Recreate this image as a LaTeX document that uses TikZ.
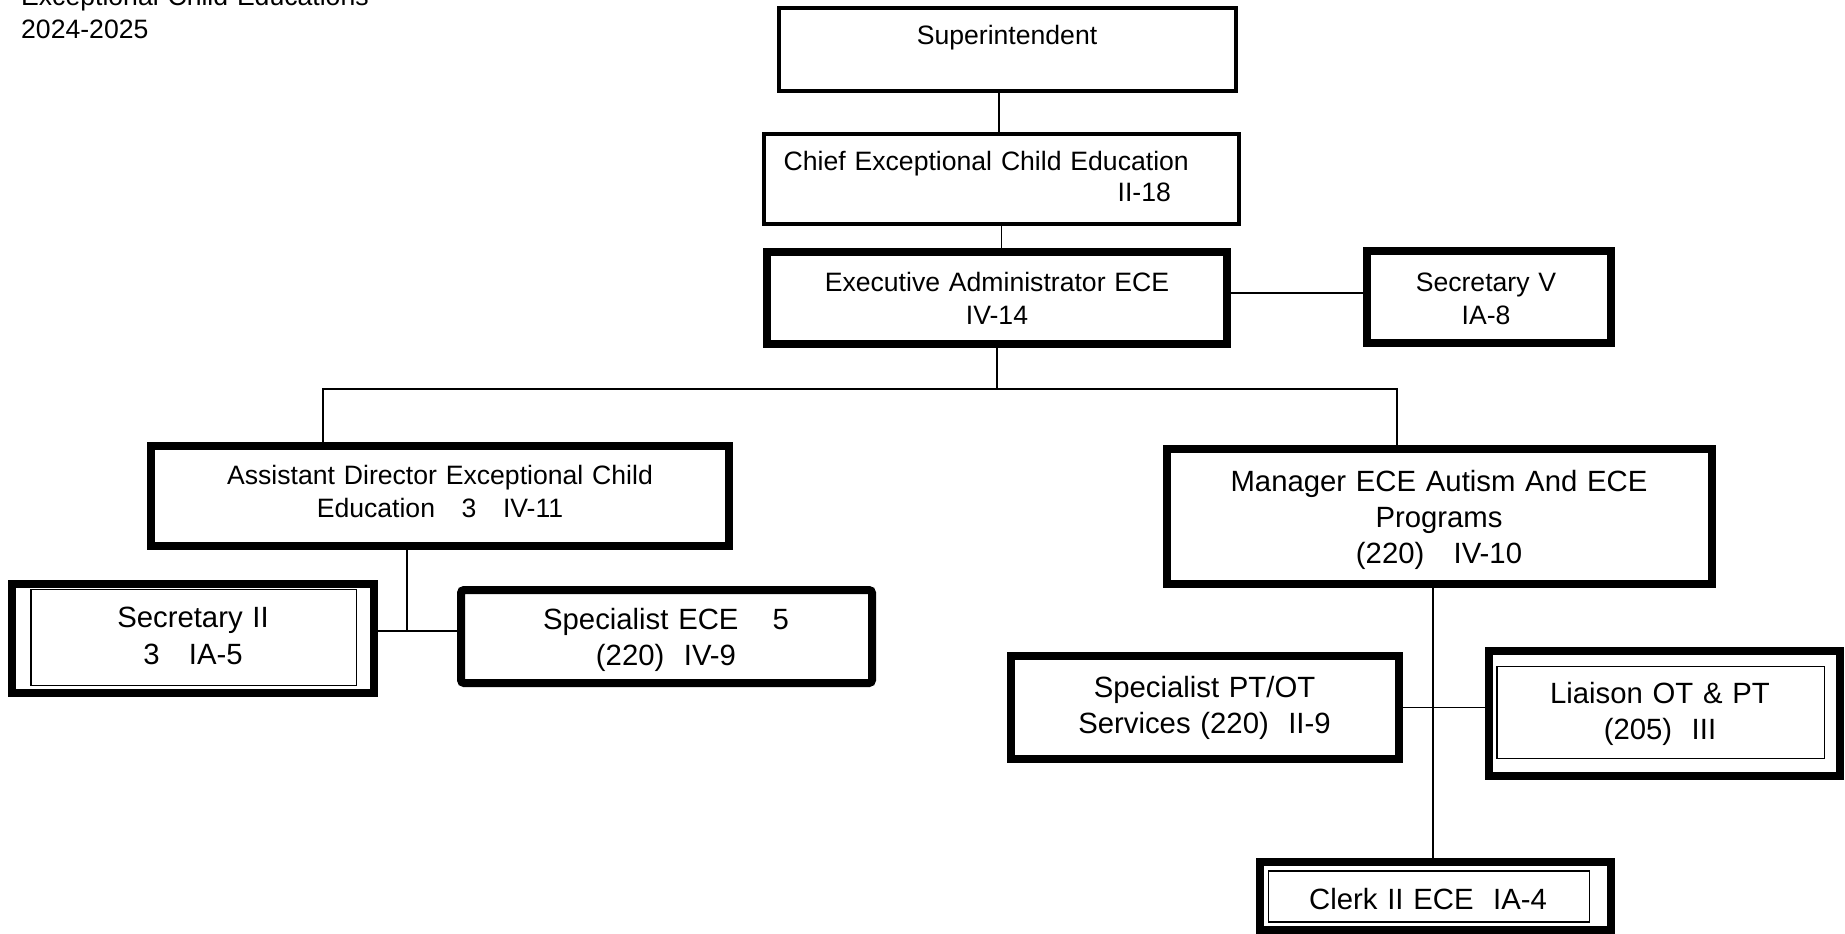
\documentclass[tikz,border=0pt]{standalone}
\usepackage{fontspec}
\setmainfont{Liberation Sans}
\usetikzlibrary{calc}
\begin{document}
\begin{tikzpicture}[x=1pt,y=-1pt,
  thickbox/.style={draw=black, line width=8pt, inner sep=0pt},
  thinbox/.style={draw=black, line width=4pt, inner sep=0pt},
  frame/.style={draw=black, line width=1.1pt},
  link/.style={draw=black, line width=1.2pt},
  toptext/.style={inner sep=0pt, anchor=base, align=center, font=\fontsize{26.6}{33}\selectfont},
  lowtext/.style={inner sep=0pt, anchor=base, align=center, font=\fontsize{29.3}{36}\selectfont}]
\useasboundingbox (0,0) rectangle (1845,934);
\clip (0,0) rectangle (1845,934);

% heading
\node[toptext, anchor=base west, align=left, text width=420] (title) at (21,6)
  {Exceptional Child Educations\\2024-2025};

% boxes
\node[thinbox, minimum width=457, minimum height=83] (sup) at (1007.5,49.5) {};
\node[thinbox, minimum width=475, minimum height=90] (chief) at (1001.5,179) {};
\node[thickbox, minimum width=460, minimum height=92] (exec) at (997,298) {};
\node[thickbox, minimum width=244, minimum height=92] (sec5) at (1489,297) {};
\node[thickbox, minimum width=578, minimum height=100] (asst) at (440,496) {};
\node[thickbox, minimum width=362, minimum height=109] (sec2) at (193,638.5) {};
\node[thickbox, rounded corners=3pt, minimum width=411, minimum height=93] (spec) at (666.5,636.5) {};
\node[thickbox, minimum width=545, minimum height=135] (mgr) at (1439.5,516.5) {};
\node[thickbox, minimum width=388, minimum height=103] (ptot) at (1205,707.5) {};
\node[thickbox, minimum width=351, minimum height=125] (liaison) at (1664.5,713.5) {};
\node[thickbox, minimum width=351, minimum height=68] (clerk) at (1435.5,896) {};

% inner frames of the double-bordered boxes
\draw[frame] ($(sec2.north west)+(23,9.5)$) rectangle ($(sec2.south east)+(-21.5,-11.5)$);
\draw[frame] ($(liaison.north west)+(12,19.3)$) rectangle ($(liaison.south east)+(-19.5,-21.5)$);
\draw[frame] ($(clerk.north west)+(12.5,13)$) rectangle ($(clerk.south east)+(-25.5,-12)$);

% labels
\node[toptext, text width=440] (sup-t) at (1007,44.3) {Superintendent};
\node[toptext, anchor=base west, align=left, text width=440,
      font=\fontsize{26.6}{31}\selectfont] (chief-t) at (783.5,170.7)
  {\mbox{Chief Exceptional Child Education}\\\hspace*{334pt}II-18};
\node[toptext, text width=440] (exec-t) at (997,291.7) {Executive Administrator ECE\\IV-14};
\node[toptext, text width=230] (sec5-t) at (1486,291) {Secretary V\\IA-8};
\node[toptext, text width=560] (asst-t) at (440,484)
  {Assistant Director Exceptional Child\\Education\ \ \ 3\ \ \ IV-11};
\node[lowtext, text width=330, font=\fontsize{29.3}{37}\selectfont] (sec2-t) at (193,627)
  {Secretary II\\3\ \ \ IA-5};
\node[lowtext, text width=400] (spec-t) at (666,629.5) {Specialist ECE\hspace{34pt}5\\(220)\ \ IV-9};
\node[lowtext, text width=530] (mgr-t) at (1439,491) {Manager ECE Autism And ECE\\Programs\\(220)\ \ \ IV-10};
\node[lowtext, text width=370] (ptot-t) at (1204.5,697.5) {Specialist PT/OT\\Services (220)\ \ II-9};
\node[lowtext, text width=320] (liaison-t) at (1660,703) {Liaison OT \& PT\\(205)\ \ III};
\node[lowtext, text width=310] (clerk-t) at (1428,909) {Clerk II ECE\ \ IA-4};

% junction points
\coordinate (sup-out) at ([xshift=-8.5pt]sup.south);
\coordinate (sec5-in) at ([yshift=5pt]exec.east);
\coordinate (bus) at ([yshift=-41pt]exec.south);
\coordinate (asst-in) at ([xshift=-117pt]asst.north);
\coordinate (mgr-in) at ([xshift=-42.5pt]mgr.north);
\coordinate (asst-out) at ([xshift=-33pt]asst.south);
\coordinate (sec2-out) at ([yshift=7.5pt]sec2.east);
\coordinate (mgr-out) at ([xshift=-6.5pt]mgr.south);

% connectors
\draw[link] (sup-out) -- (sup-out |- chief.north);
\draw[link] (chief.south) -- (chief.south |- exec.north);
\draw[link] (sec5-in) -- (sec5-in -| sec5.west);
\draw[link] (exec.south) -- (bus);
\draw[link] (asst-in) |- (bus) -| (mgr-in);
\draw[link] (sec2-out) -- (sec2-out -| spec.west);
\draw[link] (asst-out) -- (asst-out |- sec2-out);
\draw[link] (mgr-out) -- (mgr-out |- clerk.north);
\draw[link] (ptot.east) -- (ptot.east -| liaison.west);
\end{tikzpicture}
\end{document}
